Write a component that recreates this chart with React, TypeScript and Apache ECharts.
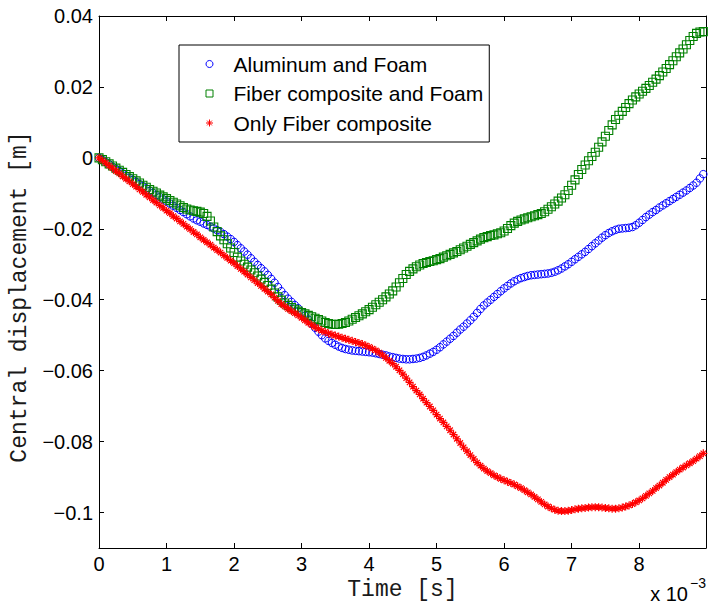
import React, { useEffect, useRef } from "react";
import * as echarts from "echarts";

// Sampling step of the recorded signal (time axis in units of 1e-3 s)
const sampleStepMs = 0.05;

const seriesNames = ["Aluminum and Foam", "Fiber composite and Foam", "Only Fiber composite"];

// Central displacement [m], one value per sample (t = 0 ... 9.0 ms)
const aluminumFoam = [
  0, -0.0006, -0.0012, -0.0018, -0.0025, -0.0031, -0.0037, -0.0044, -0.005, -0.0056,
  -0.0062, -0.0068, -0.0074, -0.008, -0.0086, -0.0093, -0.0099, -0.0105, -0.0111, -0.0117,
  -0.0123, -0.0129, -0.0135, -0.0141, -0.0147, -0.0153, -0.0159, -0.0165, -0.0171, -0.0176,
  -0.018, -0.0185, -0.0189, -0.0194, -0.0199, -0.0204, -0.0209, -0.0215, -0.0222, -0.0229,
  -0.0237, -0.0246, -0.0255, -0.0264, -0.0273, -0.0283, -0.0293, -0.0302, -0.0311, -0.032,
  -0.033, -0.0341, -0.0352, -0.0364, -0.0376, -0.0387, -0.0397, -0.0406, -0.0415, -0.0424,
  -0.0434, -0.0445, -0.0456, -0.0468, -0.0479, -0.049, -0.05, -0.0509, -0.0516, -0.0522,
  -0.0527, -0.0532, -0.0536, -0.0539, -0.0541, -0.0543, -0.0544, -0.0545, -0.0546, -0.0547,
  -0.0548, -0.0549, -0.0551, -0.0553, -0.0555, -0.0557, -0.056, -0.0562, -0.0564, -0.0566,
  -0.0567, -0.0568, -0.0568, -0.0567, -0.0566, -0.0564, -0.0561, -0.0557, -0.0552, -0.0547,
  -0.0541, -0.0534, -0.0526, -0.0518, -0.051, -0.0502, -0.0493, -0.0484, -0.0476, -0.0467,
  -0.0458, -0.0448, -0.0437, -0.0426, -0.0416, -0.0408, -0.04, -0.0392, -0.0384, -0.0376,
  -0.0368, -0.0361, -0.0354, -0.0348, -0.0343, -0.0339, -0.0336, -0.0333, -0.0331, -0.033,
  -0.0329, -0.0328, -0.0327, -0.0326, -0.0324, -0.0321, -0.0317, -0.0312, -0.0306, -0.03,
  -0.0293, -0.0286, -0.0279, -0.0272, -0.0265, -0.0257, -0.0249, -0.0241, -0.0233, -0.0225,
  -0.0218, -0.0212, -0.0207, -0.0203, -0.02, -0.0199, -0.0198, -0.0197, -0.0195, -0.019,
  -0.0183, -0.0175, -0.0167, -0.016, -0.0153, -0.0147, -0.014, -0.0134, -0.0128, -0.0122,
  -0.0116, -0.011, -0.0104, -0.0098, -0.0092, -0.0085, -0.0078, -0.007, -0.0058, -0.0046,
  -0.0036,
];

const fiberFoam = [
  0, -0.0005, -0.0011, -0.0017, -0.0023, -0.0029, -0.0035, -0.0041, -0.0047, -0.0053,
  -0.0059, -0.0065, -0.0071, -0.0077, -0.0083, -0.0089, -0.0094, -0.0099, -0.0105, -0.011,
  -0.0115, -0.012, -0.0125, -0.013, -0.0135, -0.014, -0.0144, -0.0147, -0.0149, -0.0151,
  -0.0153, -0.0157, -0.0165, -0.0178, -0.0195, -0.0208, -0.022, -0.0231, -0.0242, -0.0254,
  -0.0267, -0.028, -0.0291, -0.03, -0.0308, -0.0316, -0.0324, -0.0333, -0.0342, -0.0351,
  -0.036, -0.037, -0.0381, -0.0392, -0.0401, -0.0409, -0.0416, -0.0422, -0.0427, -0.0432,
  -0.0436, -0.044, -0.0444, -0.0448, -0.0452, -0.0456, -0.046, -0.0464, -0.0467, -0.0469,
  -0.047, -0.0469, -0.0467, -0.0464, -0.046, -0.0455, -0.045, -0.0445, -0.044, -0.0434,
  -0.0428, -0.0421, -0.0414, -0.0407, -0.04, -0.0392, -0.0384, -0.0375, -0.0364, -0.0352,
  -0.034, -0.0329, -0.032, -0.0313, -0.0307, -0.0302, -0.0298, -0.0295, -0.0292, -0.029,
  -0.0287, -0.0284, -0.028, -0.0276, -0.0272, -0.0268, -0.0264, -0.0259, -0.0254, -0.0249,
  -0.0244, -0.0239, -0.0234, -0.0229, -0.0225, -0.0222, -0.0219, -0.0217, -0.0214, -0.0211,
  -0.0206, -0.0199, -0.0191, -0.0184, -0.0179, -0.0175, -0.0172, -0.0169, -0.0166, -0.0163,
  -0.016, -0.0157, -0.0152, -0.0145, -0.0138, -0.013, -0.0122, -0.0113, -0.0104, -0.0092,
  -0.0077, -0.0062, -0.0047, -0.0033, -0.002, -0.0008, 0.0004, 0.0016, 0.003, 0.0045,
  0.0061, 0.0077, 0.0093, 0.0108, 0.012, 0.0131, 0.0142, 0.0153, 0.0163, 0.0172,
  0.018, 0.0188, 0.0196, 0.0204, 0.0213, 0.0222, 0.0232, 0.0242, 0.0252, 0.0263,
  0.0274, 0.0285, 0.0296, 0.0307, 0.0319, 0.0331, 0.0342, 0.0351, 0.0355, 0.0356,
  0.0356,
];

const onlyFiber = [
  0, -0.0007, -0.0014, -0.0022, -0.0029, -0.0037, -0.0044, -0.0052, -0.0059, -0.0066,
  -0.0074, -0.0081, -0.0089, -0.0096, -0.0104, -0.0111, -0.0119, -0.0126, -0.0134, -0.0141,
  -0.0149, -0.0156, -0.0164, -0.0171, -0.0179, -0.0186, -0.0194, -0.0201, -0.0209, -0.0216,
  -0.0224, -0.0231, -0.0238, -0.0245, -0.0253, -0.026, -0.0267, -0.0275, -0.0282, -0.029,
  -0.0297, -0.0305, -0.0313, -0.0321, -0.0329, -0.0337, -0.0345, -0.0353, -0.0361, -0.0369,
  -0.0377, -0.0385, -0.0394, -0.0403, -0.0412, -0.0419, -0.0426, -0.0432, -0.0438, -0.0444,
  -0.0451, -0.0458, -0.0465, -0.0471, -0.0477, -0.0482, -0.0487, -0.0491, -0.0495, -0.0498,
  -0.0501, -0.0504, -0.0507, -0.051, -0.0513, -0.0516, -0.0519, -0.0522, -0.0525, -0.0529,
  -0.0533, -0.0538, -0.0543, -0.0549, -0.0556, -0.0564, -0.0572, -0.058, -0.0589, -0.0599,
  -0.061, -0.0621, -0.0633, -0.0645, -0.0656, -0.0667, -0.0679, -0.069, -0.0701, -0.0712,
  -0.0724, -0.0735, -0.0746, -0.0757, -0.0768, -0.078, -0.0792, -0.0804, -0.0816, -0.0827,
  -0.0838, -0.0849, -0.0859, -0.0868, -0.0876, -0.0883, -0.0889, -0.0895, -0.09, -0.0905,
  -0.0909, -0.0913, -0.0917, -0.0921, -0.0926, -0.0931, -0.0937, -0.0943, -0.0949, -0.0956,
  -0.0963, -0.097, -0.0977, -0.0983, -0.0988, -0.0992, -0.0995, -0.0996, -0.0996, -0.0995,
  -0.0993, -0.0991, -0.0989, -0.0988, -0.0987, -0.0986, -0.0985, -0.0985, -0.0985, -0.0986,
  -0.0987, -0.0988, -0.0989, -0.0989, -0.0988, -0.0986, -0.0983, -0.098, -0.0976, -0.0971,
  -0.0966, -0.096, -0.0953, -0.0946, -0.0939, -0.0931, -0.0924, -0.0916, -0.0908, -0.09,
  -0.0893, -0.0886, -0.0879, -0.0873, -0.0867, -0.0861, -0.0855, -0.0848, -0.0841, -0.0833,
  -0.0825,
];

const xMin = 0;
const xMax = 8.99;
const xInterval = 1;
const yMin = -0.11;
const yMax = 0.04;

const asteriskPath = "path://M0 5L10 5M5 0L5 10M1.6 1.6L8.4 8.4M1.6 8.4L8.4 1.6";

function toPairs(values: number[]) {
  return values.map((v, i) => [Math.round(i * sampleStepMs * 1000) / 1000, v]);
}

function xLabel(v: number) {
  const r = Math.round(v);
  if (Math.abs(v - r) > 1e-9 || r > 8) return "";
  return String(r);
}

function yLabel(v: number) {
  const r = Math.round(v * 100) / 100;
  if (Math.abs(r - v) > 1e-9) return "";
  if (Math.abs(r * 50 - Math.round(r * 50)) > 1e-6) return "";
  if (r === 0) return "0";
  return (r < 0 ? "\u2212" : "") + String(Math.abs(r));
}

const tickFont = "Liberation Sans";
const titleFont = "Liberation Mono";

export default function App() {
  const ref = useRef<HTMLDivElement>(null);

  useEffect(() => {
    if (!ref.current) return;
    const chart = echarts.init(ref.current, undefined, { renderer: "svg" });

    const axisLine = { show: true, onZero: false, lineStyle: { color: "#000", width: 1 } };
    const axisTick = { show: true, inside: true, length: 5, lineStyle: { color: "#000", width: 1 } };

    const option: any = {
      animation: false,
      backgroundColor: "#fff",
      grid: { left: 99, right: 2, top: 16, bottom: 60, containLabel: false },
      legend: {
        orient: "vertical",
        left: 179,
        top: 45,
        padding: [8.5, 6, 8.5, 26.5],
        itemGap: 8.5,
        itemWidth: 7,
        itemHeight: 7,
        borderColor: "#000",
        borderWidth: 1,
        backgroundColor: "#fff",
        selectedMode: false,
        itemStyle: { borderWidth: 1 },
        textStyle: {
          fontFamily: tickFont,
          fontSize: 21,
          lineHeight: 21,
          color: "#000",
          padding: [0, 0, 0, 15.5],
        },
        data: seriesNames,
      },
      xAxis: [
        {
          type: "value",
          min: xMin,
          max: xMax,
          interval: xInterval,
          position: "bottom",
          name: "Time [s]",
          nameLocation: "middle",
          nameGap: 29,
          nameTextStyle: { fontFamily: titleFont, fontSize: 23, color: "#1a1a1a" },
          axisLine,
          axisTick,
          axisLabel: {
            margin: 6,
            fontFamily: tickFont,
            fontSize: 20,
            color: "#000",
            showMaxLabel: false,
            formatter: xLabel,
          },
          splitLine: { show: false },
        },
        {
          type: "value",
          min: xMin,
          max: xMax,
          interval: xInterval,
          position: "top",
          axisLine,
          axisTick,
          axisLabel: { show: false },
          splitLine: { show: false },
        },
      ],
      yAxis: [
        {
          type: "value",
          min: yMin,
          max: yMax,
          splitNumber: 7,
          position: "left",
          name: "Central displacement [m]",
          nameLocation: "middle",
          nameRotate: 90,
          nameGap: 56,
          nameTextStyle: {
            fontFamily: titleFont,
            fontSize: 23,
            color: "#1a1a1a",
            padding: [0, 30, 0, 0],
          },
          axisLine,
          axisTick,
          axisLabel: {
            margin: 6,
            fontFamily: tickFont,
            fontSize: 20,
            color: "#000",
            showMinLabel: false,
            formatter: yLabel,
          },
          splitLine: { show: false },
        },
        {
          type: "value",
          min: yMin,
          max: yMax,
          splitNumber: 7,
          position: "right",
          axisLine,
          axisTick,
          axisLabel: { show: false },
          splitLine: { show: false },
        },
      ],
      series: [
        {
          name: seriesNames[0],
          type: "scatter",
          data: toPairs(aluminumFoam),
          symbol: "circle",
          symbolSize: 7.5,
          itemStyle: { color: "rgba(0,0,0,0)", borderColor: "#0000ff", borderWidth: 1, opacity: 1 },
          emphasis: { disabled: true },
          z: 2,
        },
        {
          name: seriesNames[1],
          type: "scatter",
          data: toPairs(fiberFoam),
          symbol: "rect",
          symbolSize: 8,
          itemStyle: { color: "rgba(0,0,0,0)", borderColor: "#008000", borderWidth: 1.1, opacity: 1 },
          emphasis: { disabled: true },
          z: 3,
        },
        {
          name: seriesNames[2],
          type: "scatter",
          data: toPairs(onlyFiber),
          symbol: asteriskPath,
          symbolSize: 8,
          itemStyle: { color: "rgba(0,0,0,0)", borderColor: "#ff0000", borderWidth: 1.2, opacity: 1 },
          emphasis: { disabled: true },
          z: 4,
        },
      ],
      graphic: [
        {
          type: "text",
          x: 688,
          y: 594,
          style: {
            text: "x 10",
            font: "20px 'Liberation Sans'",
            fill: "#000",
            align: "right",
            verticalAlign: "middle",
          },
        },
        {
          type: "text",
          x: 690,
          y: 583,
          style: {
            text: "\u22123",
            font: "14px 'Liberation Sans'",
            fill: "#000",
            align: "left",
            verticalAlign: "middle",
          },
        },
      ],
    };

    chart.setOption(option);
    return () => chart.dispose();
  }, []);

  return (
    <div
      ref={ref}
      style={{ position: "fixed", left: 0, top: 0, width: 708, height: 608, background: "#fff" }}
    />
  );
}
